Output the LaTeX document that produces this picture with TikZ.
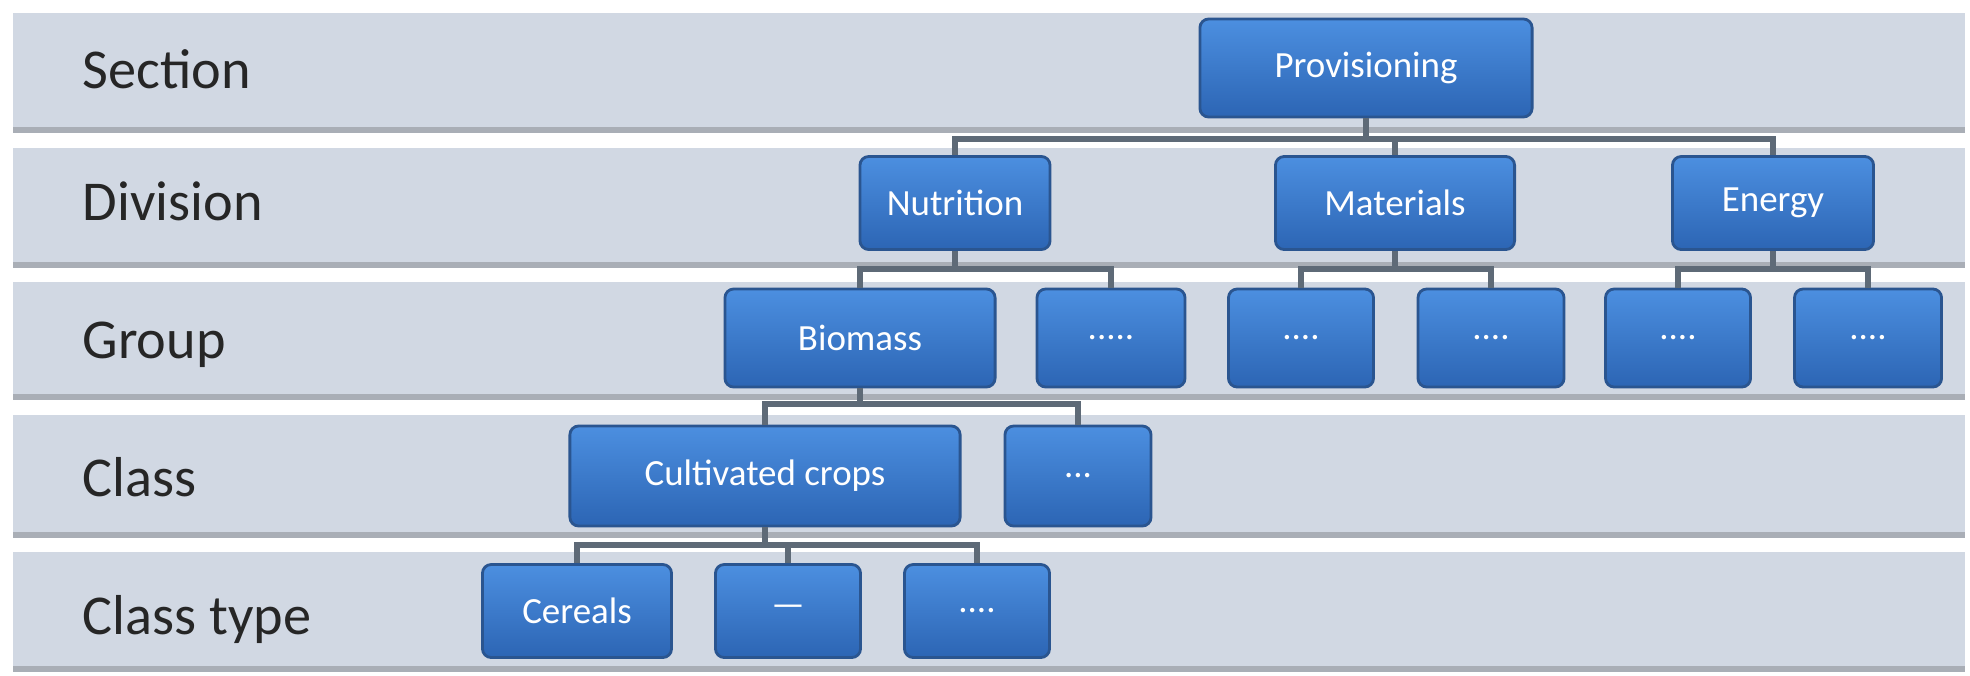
\documentclass[tikz,border=0pt]{standalone}
\usepackage{fontspec}
\setmainfont{Carlito}
\usepackage{tikz}
\usetikzlibrary{positioning}
\definecolor{bandfill}{HTML}{D1D8E3}
\definecolor{bandedge}{HTML}{A9AEB6}
\definecolor{tiletop}{HTML}{4C8FE0}
\definecolor{tilebot}{HTML}{2C65B4}
\definecolor{tileedge}{HTML}{2A5590}
\definecolor{linkgray}{HTML}{5E6A77}
\tikzset{
  band/.style={fill=bandfill},
  bandline/.style={fill=bandedge},
  levellabel/.style={anchor=base west, text=black!85, font=\fontsize{16}{19}\selectfont, inner sep=0pt},
  tile/.style={draw=tileedge, line width=0.8pt, rounded corners=2.5pt, top color=tiletop, bottom color=tilebot, text=white, font=\fontsize{10.5}{12}\selectfont, inner sep=0pt, align=center},
  tileA/.style={tile, minimum height=0.98cm},
  tileB/.style={tile, minimum height=0.93cm},
  tileC/.style={tile, minimum height=1.0cm},
  link/.style={draw=linkgray, line width=1.5pt}
}

\begin{document}
\begin{tikzpicture}[x=0.01cm, y=-0.01cm]
  \useasboundingbox (0,0) rectangle (1970,675);
  % level bands
  \foreach \top/\bot in {13/133, 148/268, 282/400, 415/538, 552/672} {
    \fill[band] (13,\top) rectangle (1965,\bot);
    \fill[bandline] (13,\bot-6) rectangle (1965,\bot);
  }
  \node[levellabel] (lsec) at (82,88) {Section};
  \node[levellabel] (ldiv) at (82,220) {Division};
  \node[levellabel] (lgrp) at (82,358) {Group};
  \node[levellabel] (lcls) at (82,496) {Class};
  \node[levellabel] (ltyp) at (82,634) {Class type};

  % bus heights
  \coordinate (busA) at (0,139);
  \coordinate (busB) at (0,269);
  \coordinate (busC) at (0,404);
  \coordinate (busD) at (0,545);

  % section and divisions
  \node[tileA, minimum width=3.32cm] (prov) at (1366,68) {Provisioning};
  \node[tileB, minimum width=1.90cm] (nut) at (955,203) {Nutrition};
  \node[tileB, minimum width=2.39cm] (mat) at (1395,203) {Materials};
  \node[tileB, minimum width=2.01cm] (ene) at (1773,203) {Energy};

  % groups
  \node[tileA, minimum width=2.70cm] (bio) at (860,338) {Biomass};
  \node[tileA, minimum width=1.48cm] (nutx) at (1111,338) {.....};
  \node[tileA, minimum width=1.45cm] (matx1) at (1301,338) {....};
  \node[tileA, minimum width=1.46cm] (matx2) at (1491,338) {....};
  \node[tileA, minimum width=1.45cm] (enex1) at (1678,338) {....};
  \node[tileA, minimum width=1.47cm] (enex2) at (1868,338) {....};

  % classes
  \node[tileC, minimum width=3.90cm] (crops) at (765,476) {Cultivated crops};
  \node[tileC, minimum width=1.46cm] (biox) at (1078,476) {...};

  % class types
  \node[tileB, minimum width=1.89cm] (cer) at (577,611) {Cereals};
  \node[tileB, minimum width=1.45cm] (cropx1) at (788,611) {---};
  \node[tileB, minimum width=1.45cm] (cropx2) at (977,611) {....};

  % connectors
  \foreach \kid in {nut, mat, ene}
    \draw[link] (prov.south) -- (prov.south |- busA) -| (\kid.north);
  \foreach \kid in {bio, nutx}
    \draw[link] (nut.south) -- (nut.south |- busB) -| (\kid.north);
  \foreach \kid in {matx1, matx2}
    \draw[link] (mat.south) -- (mat.south |- busB) -| (\kid.north);
  \foreach \kid in {enex1, enex2}
    \draw[link] (ene.south) -- (ene.south |- busB) -| (\kid.north);
  \foreach \kid in {crops, biox}
    \draw[link] (bio.south) -- (bio.south |- busC) -| (\kid.north);
  \foreach \kid in {cer, cropx1, cropx2}
    \draw[link] (crops.south) -- (crops.south |- busD) -| (\kid.north);
\end{tikzpicture}
\end{document}
